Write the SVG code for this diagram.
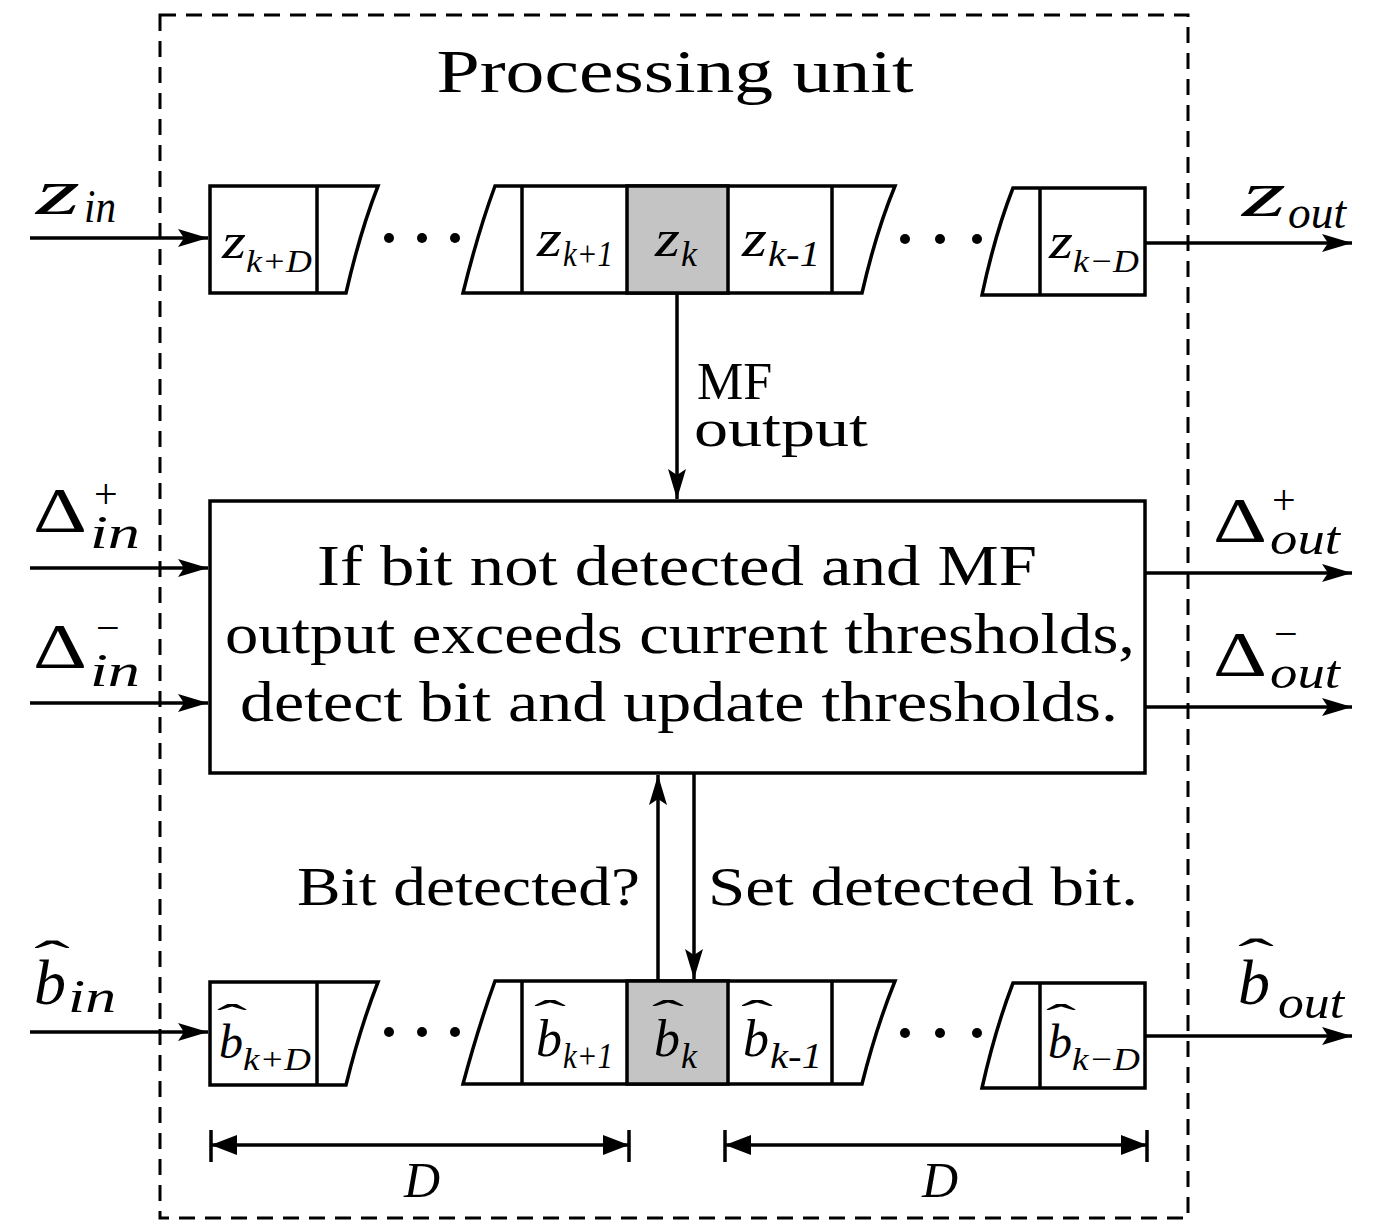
<svg xmlns="http://www.w3.org/2000/svg" width="1374" height="1221" viewBox="0 0 1374 1221">
<defs>
<marker id="ah" viewBox="0 0 30 18" refX="30" refY="9" markerWidth="30" markerHeight="18" markerUnits="userSpaceOnUse" orient="auto">
<path d="M0,0 L30,9 L0,18 L6,9 Z" fill="#000"/>
</marker>
<style>
.ln{stroke:#000;stroke-width:3.5;fill:none}
.cell{stroke:#000;stroke-width:3.5;fill:#fff}
.sh{stroke:#000;stroke-width:3.5;fill:#c4c4c4}
.t{font-family:"Liberation Serif",serif;fill:#000;font-style:normal}
.i{font-family:"Liberation Serif",serif;font-style:italic;fill:#000}
.dot{fill:#000}
</style>
</defs>
<rect width="1374" height="1221" fill="#fff"/>

<g id="processing-unit">
<rect x="160" y="15" width="1028" height="1203" fill="none" stroke="#000" stroke-width="3" stroke-dasharray="16,10"/>
<text class="t" x="675" y="92" font-size="62" text-anchor="middle" textLength="477" lengthAdjust="spacingAndGlyphs">Processing unit</text>
</g>

<g id="z-register">
<path class="cell" d="M210,186 L378,186 Q360,232 346,293 L210,293 Z"/>
<line class="ln" x1="317" y1="186" x2="317" y2="293"/>
<path class="cell" d="M495,186 L895,186 Q876,232 862,293 L463,293 Q478,232 495,186 Z"/>
<rect class="sh" x="627" y="186" width="101" height="107"/>
<line class="ln" x1="522" y1="186" x2="522" y2="293"/>
<line class="ln" x1="832" y1="186" x2="832" y2="293"/>
<path class="cell" d="M1013,188 L1145,188 L1145,295 L982,295 Q995,234 1013,188 Z"/>
<line class="ln" x1="1040" y1="188" x2="1040" y2="295"/>
<circle class="dot" cx="389" cy="238" r="5"/><circle class="dot" cx="422" cy="238" r="5"/><circle class="dot" cx="455" cy="238" r="5"/>
<circle class="dot" cx="905" cy="239" r="5"/><circle class="dot" cx="940" cy="239" r="5"/><circle class="dot" cx="977" cy="239" r="5"/>
<text class="i"><tspan x="222" y="258" font-size="50" textLength="24" lengthAdjust="spacingAndGlyphs">z</tspan><tspan x="246" y="272" font-size="32" textLength="66" lengthAdjust="spacingAndGlyphs">k+D</tspan></text>
<text class="i"><tspan x="537" y="256" font-size="52" textLength="25" lengthAdjust="spacingAndGlyphs">z</tspan><tspan x="563" y="266" font-size="36" textLength="50" lengthAdjust="spacingAndGlyphs">k+1</tspan></text>
<text class="i"><tspan x="655" y="256" font-size="52" textLength="25" lengthAdjust="spacingAndGlyphs">z</tspan><tspan x="681" y="266" font-size="36">k</tspan></text>
<text class="i"><tspan x="742" y="256" font-size="52" textLength="25" lengthAdjust="spacingAndGlyphs">z</tspan><tspan x="768" y="266" font-size="36" textLength="52" lengthAdjust="spacingAndGlyphs">k-1</tspan></text>
<text class="i"><tspan x="1049" y="258" font-size="50" textLength="24" lengthAdjust="spacingAndGlyphs">z</tspan><tspan x="1073" y="272" font-size="32" textLength="66" lengthAdjust="spacingAndGlyphs">k−D</tspan></text>
</g>

<g id="threshold-box">
<rect class="cell" x="210" y="501" width="935" height="272"/>
<text class="t" x="677" y="585" font-size="58" text-anchor="middle" textLength="720" lengthAdjust="spacingAndGlyphs">If bit not detected and MF</text>
<text class="t" x="680" y="653" font-size="58" text-anchor="middle" textLength="910" lengthAdjust="spacingAndGlyphs">output exceeds current thresholds,</text>
<text class="t" x="679" y="721" font-size="58" text-anchor="middle" textLength="878" lengthAdjust="spacingAndGlyphs">detect bit and update thresholds.</text>
</g>

<g id="b-register">
<path class="cell" d="M210,982 L378,982 Q360,1028 346,1085 L210,1085 Z"/>
<line class="ln" x1="317" y1="982" x2="317" y2="1085"/>
<path class="cell" d="M495,981 L895,981 Q876,1028 862,1084 L463,1084 Q478,1028 495,981 Z"/>
<rect class="sh" x="627" y="981" width="101" height="103"/>
<line class="ln" x1="522" y1="981" x2="522" y2="1084"/>
<line class="ln" x1="832" y1="981" x2="832" y2="1084"/>
<path class="cell" d="M1013,983 L1145,983 L1145,1088 L982,1088 Q995,1030 1013,983 Z"/>
<line class="ln" x1="1040" y1="983" x2="1040" y2="1088"/>
<circle class="dot" cx="389" cy="1032" r="5"/><circle class="dot" cx="422" cy="1032" r="5"/><circle class="dot" cx="455" cy="1032" r="5"/>
<circle class="dot" cx="905" cy="1033" r="5"/><circle class="dot" cx="940" cy="1033" r="5"/><circle class="dot" cx="977" cy="1033" r="5"/>
<text class="i"><tspan class="t" x="217" y="1032" font-size="40" textLength="30" lengthAdjust="spacingAndGlyphs">ˆ</tspan><tspan x="219" y="1058" font-size="48">b</tspan><tspan x="243" y="1070" font-size="32" textLength="68" lengthAdjust="spacingAndGlyphs">k+D</tspan></text>
<text class="i"><tspan class="t" x="534" y="1028" font-size="40" textLength="32" lengthAdjust="spacingAndGlyphs">ˆ</tspan><tspan x="536" y="1056" font-size="52">b</tspan><tspan x="563" y="1068" font-size="36" textLength="50" lengthAdjust="spacingAndGlyphs">k+1</tspan></text>
<text class="i"><tspan class="t" x="652" y="1028" font-size="40" textLength="32" lengthAdjust="spacingAndGlyphs">ˆ</tspan><tspan x="654" y="1056" font-size="52">b</tspan><tspan x="681" y="1068" font-size="36">k</tspan></text>
<text class="i"><tspan class="t" x="741" y="1028" font-size="40" textLength="32" lengthAdjust="spacingAndGlyphs">ˆ</tspan><tspan x="743" y="1056" font-size="52">b</tspan><tspan x="770" y="1068" font-size="36" textLength="52" lengthAdjust="spacingAndGlyphs">k-1</tspan></text>
<text class="i"><tspan class="t" x="1046" y="1032" font-size="40" textLength="30" lengthAdjust="spacingAndGlyphs">ˆ</tspan><tspan x="1048" y="1058" font-size="48">b</tspan><tspan x="1072" y="1070" font-size="32" textLength="68" lengthAdjust="spacingAndGlyphs">k−D</tspan></text>
</g>

<g id="connectors">
<line class="ln" x1="30" y1="238" x2="208" y2="238" marker-end="url(#ah)"/>
<line class="ln" x1="1145" y1="243" x2="1352" y2="243" marker-end="url(#ah)"/>
<line class="ln" x1="677" y1="293" x2="677" y2="499" marker-end="url(#ah)"/>
<line class="ln" x1="30" y1="568" x2="208" y2="568" marker-end="url(#ah)"/>
<line class="ln" x1="30" y1="703" x2="208" y2="703" marker-end="url(#ah)"/>
<line class="ln" x1="1145" y1="573" x2="1352" y2="573" marker-end="url(#ah)"/>
<line class="ln" x1="1145" y1="707" x2="1352" y2="707" marker-end="url(#ah)"/>
<line class="ln" x1="658" y1="981" x2="658" y2="775" marker-end="url(#ah)"/>
<line class="ln" x1="694" y1="773" x2="694" y2="979" marker-end="url(#ah)"/>
<line class="ln" x1="30" y1="1032" x2="208" y2="1032" marker-end="url(#ah)"/>
<line class="ln" x1="1145" y1="1036" x2="1352" y2="1036" marker-end="url(#ah)"/>
</g>

<g id="dimensions">
<line class="ln" x1="211" y1="1145" x2="629" y2="1145"/>
<line class="ln" x1="211" y1="1130" x2="211" y2="1162"/>
<line class="ln" x1="629" y1="1130" x2="629" y2="1162"/>
<path d="M211,1145 L237,1135 L237,1155 Z"/><path d="M629,1145 L603,1135 L603,1155 Z"/>
<line class="ln" x1="725" y1="1145" x2="1147" y2="1145"/>
<line class="ln" x1="725" y1="1130" x2="725" y2="1162"/>
<line class="ln" x1="1147" y1="1130" x2="1147" y2="1162"/>
<path d="M725,1145 L751,1135 L751,1155 Z"/><path d="M1147,1145 L1121,1135 L1121,1155 Z"/>
<text class="i" x="422" y="1197" font-size="50" text-anchor="middle">D</text>
<text class="i" x="940" y="1197" font-size="50" text-anchor="middle">D</text>
</g>

<g id="labels">
<text class="i"><tspan x="36" y="214" font-size="66" textLength="44" lengthAdjust="spacingAndGlyphs">z</tspan><tspan x="84" y="222" font-size="46" textLength="32" lengthAdjust="spacingAndGlyphs">in</tspan></text>
<text class="i"><tspan x="1242" y="216" font-size="66" textLength="44" lengthAdjust="spacingAndGlyphs">z</tspan><tspan x="1288" y="228" font-size="46" textLength="58" lengthAdjust="spacingAndGlyphs">out</tspan></text>
<text class="t" x="697" y="399" font-size="52">MF</text>
<text class="t" x="694" y="446" font-size="52" textLength="174" lengthAdjust="spacingAndGlyphs">output</text>
<text class="t"><tspan x="33" y="532" font-size="64" textLength="54" lengthAdjust="spacingAndGlyphs">Δ</tspan><tspan x="94" y="508" font-size="42">+</tspan><tspan class="i" x="90" y="548" font-size="46" textLength="50" lengthAdjust="spacingAndGlyphs">in</tspan></text>
<text class="t"><tspan x="33" y="668" font-size="64" textLength="54" lengthAdjust="spacingAndGlyphs">Δ</tspan><tspan x="96" y="642" font-size="42">−</tspan><tspan class="i" x="90" y="686" font-size="46" textLength="50" lengthAdjust="spacingAndGlyphs">in</tspan></text>
<text class="t"><tspan x="1213" y="542" font-size="64" textLength="54" lengthAdjust="spacingAndGlyphs">Δ</tspan><tspan x="1272" y="514" font-size="42">+</tspan><tspan class="i" x="1270" y="554" font-size="46" textLength="70" lengthAdjust="spacingAndGlyphs">out</tspan></text>
<text class="t"><tspan x="1213" y="676" font-size="64" textLength="54" lengthAdjust="spacingAndGlyphs">Δ</tspan><tspan x="1274" y="648" font-size="42">−</tspan><tspan class="i" x="1270" y="688" font-size="46" textLength="70" lengthAdjust="spacingAndGlyphs">out</tspan></text>
<text class="t" x="640" y="905" font-size="54" text-anchor="end" textLength="343" lengthAdjust="spacingAndGlyphs">Bit detected?</text>
<text class="t" x="708" y="905" font-size="54" textLength="430" lengthAdjust="spacingAndGlyphs">Set detected bit.</text>
<text class="i"><tspan class="t" x="34" y="975" font-size="48" textLength="36" lengthAdjust="spacingAndGlyphs">ˆ</tspan><tspan x="34" y="1004" font-size="64">b</tspan><tspan x="68" y="1012" font-size="46" textLength="48" lengthAdjust="spacingAndGlyphs">in</tspan></text>
<text class="i"><tspan class="t" x="1238" y="973" font-size="48" textLength="36" lengthAdjust="spacingAndGlyphs">ˆ</tspan><tspan x="1238" y="1004" font-size="64">b</tspan><tspan x="1278" y="1018" font-size="46" textLength="66" lengthAdjust="spacingAndGlyphs">out</tspan></text>
</g>
</svg>
